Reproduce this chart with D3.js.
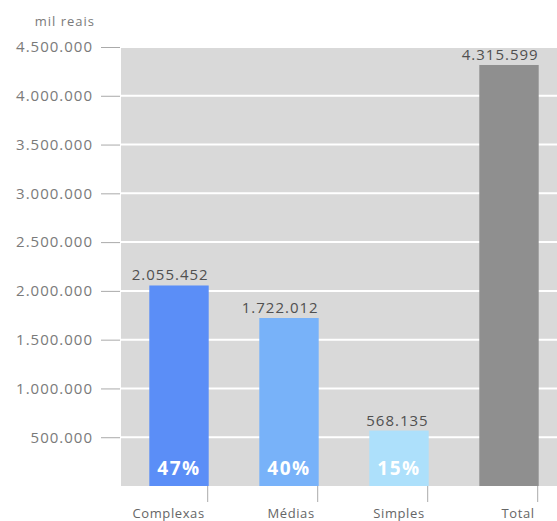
<!DOCTYPE html>
<html>
<head>
<meta charset="utf-8">
<script src="https://cdn.jsdelivr.net/npm/d3@7"></script>
<style>
  body { margin: 0; background: #fff; }
  text { font-family: "Open Sans", sans-serif; }
</style>
</head>
<body>
<svg class="mySVG" width="557" height="521"></svg>
<script>
// values (mil reais)
var categories = ["Complexas", "Médias", "Simples", "Total"];
var values = [2055452, 1722012, 568135, 4315599];
var shares = ["47%", "40%", "15%", null];
var barColors = ["#5b8ef7", "#78b2f9", "#ade0fb", "#8f8f8f"];
var tickValues = [500000, 1000000, 1500000, 2000000, 2500000, 3000000, 3500000, 4000000, 4500000];

var width = 557, height = 521;
var plotLeft = 121, plotTop = 47, plotBottom = 486;

var fmt = d3.formatLocale({decimal: ",", thousands: ".", grouping: [3], currency: ["R$", ""]}).format(",d");

var svg = d3.select(".mySVG");

var y = d3.scaleLinear()
    .domain([0, 4500000])
    .range([plotBottom, plotTop]);

var x = d3.scaleBand()
    .domain(categories)
    .range([124, 564])
    .paddingInner(0.46)
    .paddingOuter(0.23);

// grey background
svg.append("rect")
    .attr("x", plotLeft)
    .attr("y", plotTop)
    .attr("width", width - plotLeft)
    .attr("height", plotBottom - plotTop)
    .attr("fill", "#d9d9d9");

// white grid lines
svg.append("g")
    .selectAll("line")
    .data(tickValues)
    .join("line")
        .attr("x1", plotLeft)
        .attr("x2", width)
        .attr("y1", d => y(d))
        .attr("y2", d => y(d))
        .attr("stroke", "#fff")
        .attr("stroke-width", 2);

// y axis
var yAxis = svg.append("g")
    .attr("transform", `translate(${plotLeft - 1},0)`)
    .call(d3.axisLeft(y).tickValues(tickValues).tickFormat(fmt).tickSize(19).tickPadding(8));
yAxis.select(".domain").remove();
yAxis.selectAll(".tick line").attr("stroke", "#aaa");
yAxis.selectAll(".tick text")
    .attr("fill", "#7a7a7a")
    .style("font-size", "15px")
    .style("letter-spacing", "1px")
    .style("font-family", "'Open Sans', sans-serif");

svg.append("text")
    .attr("x", 95)
    .attr("y", 26)
    .attr("text-anchor", "end")
    .attr("fill", "#7a7a7a")
    .style("font-size", "13px")
    .style("letter-spacing", "1px")
    .text("mil reais");

// bars
svg.append("g")
    .selectAll("rect")
    .data(categories)
    .join("rect")
        .attr("x", d => x(d))
        .attr("y", (d, i) => y(values[i]))
        .attr("width", x.bandwidth())
        .attr("height", (d, i) => y(0) - y(values[i]))
        .attr("fill", (d, i) => barColors[i]);

// value labels, right-aligned to the bar
svg.append("g")
    .selectAll("text")
    .data(categories)
    .join("text")
        .attr("x", d => x(d) + x.bandwidth())
        .attr("y", (d, i) => y(values[i]) - 5)
        .attr("text-anchor", "end")
        .attr("fill", "#505050")
        .style("font-size", "15px")
        .style("letter-spacing", "1px")
        .text((d, i) => fmt(values[i]));

// percentages inside bars
svg.append("g")
    .selectAll("text")
    .data(categories.filter((d, i) => shares[i]))
    .join("text")
        .attr("x", d => x(d) + x.bandwidth() / 2)
        .attr("y", 475)
        .attr("text-anchor", "middle")
        .attr("fill", "#fff")
        .style("font-size", "19px")
        .style("font-weight", "bold")
        .style("letter-spacing", "1.5px")
        .text(d => shares[categories.indexOf(d)]);

// x axis ticks and labels
var xg = svg.append("g");
xg.selectAll("line")
    .data(categories)
    .join("line")
        .attr("x1", d => x(d) + x.bandwidth() - 1)
        .attr("x2", d => x(d) + x.bandwidth() - 1)
        .attr("y1", plotBottom)
        .attr("y2", plotBottom + 16)
        .attr("stroke", "#aaa");
xg.selectAll("text")
    .data(categories)
    .join("text")
        .attr("x", d => x(d) + x.bandwidth() - 4)
        .attr("y", 518)
        .attr("text-anchor", "end")
        .attr("fill", "#666")
        .style("font-size", "13px")
        .style("letter-spacing", "0.6px")
        .text(d => d);
</script>
</body>
</html>
